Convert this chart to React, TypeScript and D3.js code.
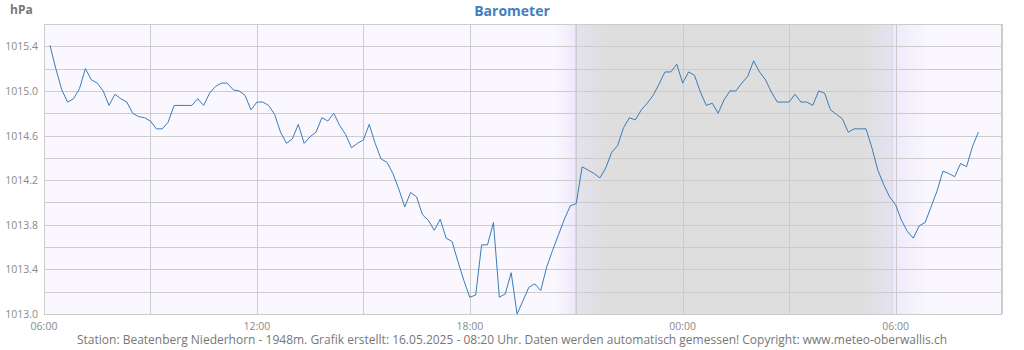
import React from "react";
import * as d3 from "d3";

// ---- data ----
const startTime = "2025-05-15T06:10:00";
const stepMinutes = 10;
const pressure: number[] = [
  1015.41, 1015.2, 1015.01, 1014.9, 1014.93, 1015.02, 1015.2, 1015.1, 1015.07, 1015.0,
  1014.87, 1014.97, 1014.93, 1014.9, 1014.8, 1014.77, 1014.76, 1014.73, 1014.66, 1014.66,
  1014.72, 1014.87, 1014.87, 1014.87, 1014.87, 1014.93, 1014.87, 1014.98, 1015.04, 1015.07,
  1015.07, 1015.01, 1015.0, 1014.96, 1014.83, 1014.9, 1014.9, 1014.87, 1014.79, 1014.63,
  1014.53, 1014.57, 1014.7, 1014.53, 1014.59, 1014.63, 1014.76, 1014.73, 1014.8, 1014.69,
  1014.61, 1014.49, 1014.53, 1014.56, 1014.7, 1014.53, 1014.39, 1014.36, 1014.26, 1014.12,
  1013.96, 1014.09, 1014.05, 1013.89, 1013.84, 1013.75, 1013.85, 1013.68, 1013.65, 1013.47,
  1013.3, 1013.15, 1013.17, 1013.62, 1013.62, 1013.82, 1013.15, 1013.18, 1013.37, 1013.0,
  1013.12, 1013.24, 1013.27, 1013.21, 1013.42, 1013.57, 1013.71, 1013.85, 1013.97, 1013.99,
  1014.32, 1014.29, 1014.26, 1014.22, 1014.31, 1014.45, 1014.51, 1014.67, 1014.76, 1014.74,
  1014.83, 1014.89, 1014.96, 1015.06, 1015.17, 1015.17, 1015.24, 1015.07, 1015.17, 1015.14,
  1014.99, 1014.87, 1014.89, 1014.8, 1014.92, 1015.0, 1015.0, 1015.07, 1015.13, 1015.27,
  1015.17, 1015.1, 1014.99, 1014.9, 1014.9, 1014.9, 1014.97, 1014.9, 1014.9, 1014.87,
  1015.0, 1014.98, 1014.83, 1014.79, 1014.75, 1014.63, 1014.66, 1014.66, 1014.66, 1014.49,
  1014.29, 1014.16, 1014.05, 1013.98, 1013.84, 1013.74, 1013.68, 1013.79, 1013.82, 1013.96,
  1014.1, 1014.28, 1014.26, 1014.23, 1014.35, 1014.32, 1014.5, 1014.63,
];
const xTickLabels = ["06:00", "12:00", "18:00", "00:00", "06:00"];
const yTickLabels = ["1013.0", "1013.4", "1013.8", "1014.2", "1014.6", "1015.0", "1015.4"];
const sunset = "2025-05-15T20:58:00";
const sunrise = "2025-05-16T05:54:00";
const domainStart = "2025-05-15T06:00:00";
const domainEnd = "2025-05-16T09:00:00";
const title = "Barometer";
const unit = "hPa";
const footer =
  "Station: Beatenberg Niederhorn - 1948m. Grafik erstellt: 16.05.2025 - 08:20 Uhr. Daten werden automatisch gemessen! Copyright: www.meteo-oberwallis.ch";

const W = 1024;
const H = 350;
const M = { left: 44, right: 1002, top: 24, bottom: 314 };
const FONT = "'Open Sans', sans-serif";

export default function App() {
  const t0 = new Date(startTime).getTime();
  const pts = pressure.map((v, i) => ({ t: new Date(t0 + i * stepMinutes * 60000), v }));

  const x = d3.scaleTime().domain([new Date(domainStart), new Date(domainEnd)]).range([M.left, M.right]);
  const y = d3.scaleLinear().domain([1013.0, 1015.6]).range([M.bottom, M.top]);

  const line = d3
    .line<{ t: Date; v: number }>()
    .x((d) => x(d.t))
    .y((d) => y(d.v));

  const vTicks = x.ticks(d3.timeHour.every(3)!);
  const hTicks = d3.range(0, 14).map((i) => 1013.0 + i * 0.2);
  const labelTicks = x.ticks(d3.timeHour.every(6)!);

  const xs = x(new Date(sunset));
  const xr = x(new Date(sunrise));
  const nightW = xr - xs;
  const fade = 30 / nightW;
  const crisp = (v: number) => Math.round(v) + 0.5;

  return (
    <div style={{ position: "fixed", left: 0, top: 0 }}>
      <svg width={W} height={H} style={{ display: "block" }}>
        <defs>
          <linearGradient id="night" x1="0" x2="1" y1="0" y2="0">
            <stop offset="0" stopColor="#e4e2f0" />
            <stop offset={fade} stopColor="#dedede" />
            <stop offset={1 - fade} stopColor="#dedede" />
            <stop offset="1" stopColor="#e4e2f0" />
          </linearGradient>
          <linearGradient id="dusk" x1="0" x2="1" y1="0" y2="0">
            <stop offset="0" stopColor="#faf8fe" />
            <stop offset="1" stopColor="#efe9fb" />
          </linearGradient>
          <linearGradient id="dawn" x1="0" x2="1" y1="0" y2="0">
            <stop offset="0" stopColor="#efe9fb" />
            <stop offset="1" stopColor="#faf8fe" />
          </linearGradient>
        </defs>
        <rect x={0} y={0} width={W} height={H} fill="#ffffff" />
        <rect x={M.left} y={M.top} width={M.right - M.left} height={M.bottom - M.top} fill="#faf8fe" />
        <rect x={xs - 22} y={M.top} width={22} height={M.bottom - M.top} fill="url(#dusk)" />
        <rect x={xs} y={M.top} width={nightW} height={M.bottom - M.top} fill="url(#night)" />
        <rect x={xr} y={M.top} width={40} height={M.bottom - M.top} fill="url(#dawn)" />
        <line x1={crisp(xs)} x2={crisp(xs)} y1={M.top} y2={M.bottom} stroke="#dad6e2" />
        <line x1={crisp(xr)} x2={crisp(xr)} y1={M.top} y2={M.bottom} stroke="#dad6e2" />
        {hTicks.map((v, i) => (
          <line key={"h" + i} x1={M.left} x2={M.right} y1={crisp(y(v))} y2={crisp(y(v))} stroke="#cccccc" />
        ))}
        {vTicks.map((d, i) => (
          <line key={"v" + i} x1={crisp(x(d))} x2={crisp(x(d))} y1={M.top} y2={M.bottom} stroke="#cccccc" />
        ))}
        <rect
          x={M.left + 0.5}
          y={M.top + 0.5}
          width={M.right - M.left - 1}
          height={M.bottom - M.top}
          fill="none"
          stroke="#cccccc"
        />
        <path d={line(pts) || ""} fill="none" stroke="#3a7cb9" strokeWidth={1} />
        {yTickLabels.map((s) => (
          <text
            key={s}
            x={38}
            y={y(+s) + 4}
            textAnchor="end"
            fontFamily={FONT}
            fontSize={10.5}
            fill="#8a8a8a"
          >
            {s}
          </text>
        ))}
        {labelTicks.map((d, i) => (
          <text
            key={"xl" + i}
            x={x(d)}
            y={330}
            textAnchor="middle"
            fontFamily={FONT}
            fontSize={10.5}
            fill="#8a8a8a"
          >
            {xTickLabels[i]}
          </text>
        ))}
        <text x={512} y={16} textAnchor="middle" fontFamily={FONT} fontSize={14} fontWeight="bold" fill="#3f80bd">
          {title}
        </text>
        <text x={10} y={14} fontFamily={FONT} fontSize={12} fontWeight="bold" fill="#777777">
          {unit}
        </text>
        <text x={512} y={344} textAnchor="middle" fontFamily={FONT} fontSize={12} fill="#777777">
          {footer}
        </text>
      </svg>
    </div>
  );
}
